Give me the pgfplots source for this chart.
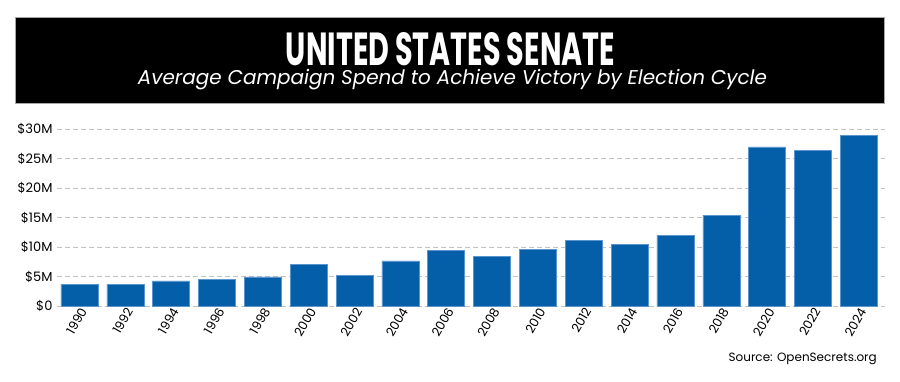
\documentclass[border=0pt]{standalone}
\usepackage{pgfplots}
\pgfplotsset{compat=1.18}
\usepackage{fontspec}
\setmainfont{Poppins}
\definecolor{barblue}{RGB}{4,94,168}
\definecolor{baredge}{RGB}{90,150,205}
\definecolor{gridgray}{RGB}{195,195,195}
\begin{document}
\begin{tikzpicture}
\path[use as bounding box] (0pt,0pt) rectangle (900pt,381pt);
\draw[fill=black, draw=gray!70, line width=0.8pt] (15pt,278pt) rectangle (884pt,364pt);
\node[anchor=base, inner sep=0pt, text=white] at (450.5pt,316pt) {\resizebox{329pt}{33pt}{\bfseries UNITED STATES SENATE}};
\node[anchor=base, inner sep=0pt, text=white] at (452.5pt,296pt) {\resizebox{629pt}{!}{\fontsize{19}{22}\selectfont\itshape Average Campaign Spend to Achieve Victory by Election Cycle}};
\begin{axis}[
  at={(57pt,75pt)}, anchor=south west,
  scale only axis, width=828pt, height=177pt,
  xmin=-0.49, xmax=17.57, ymin=0, ymax=30,
  axis line style={draw=none},
  clip=false,
  ytick={0,5,10,15,20,25,30},
  yticklabels={\$0,\$5M,\$10M,\$15M,\$20M,\$25M,\$30M},
  xtick={0,...,17},
  xticklabels={1990,1992,1994,1996,1998,2000,2002,2004,2006,2008,2010,2012,2014,2016,2018,2020,2022,2024},
  xticklabel style={rotate=60, anchor=east, font=\fontsize{12.5}{14}\selectfont, xshift=3pt, yshift=-5pt},
  yticklabel style={font=\fontsize{13}{15}\selectfont, anchor=east, xshift=-1pt},
  major tick length=0pt,
  tick style={draw=none},
  ymajorgrids,
  grid style={gridgray, dash pattern=on 5pt off 3pt, line width=0.8pt},
  /pgf/number format/assume math mode=true,
]
\addplot[ybar, bar width=37pt, fill=barblue, draw=baredge, line width=0.6pt] coordinates {
(0,3.65) (1,3.65) (2,4.27) (3,4.49) (4,4.94) (5,7.02) (6,5.17) (7,7.64) (8,9.38)
(9,8.37) (10,9.66) (11,11.12) (12,10.5) (13,11.97) (14,15.39) (15,26.97) (16,26.35) (17,28.93)
};
\end{axis}
\node[anchor=base east, inner sep=0pt] at (877pt,20pt) {\fontsize{12}{14}\selectfont Source: OpenSecrets.org};
\end{tikzpicture}
\end{document}
